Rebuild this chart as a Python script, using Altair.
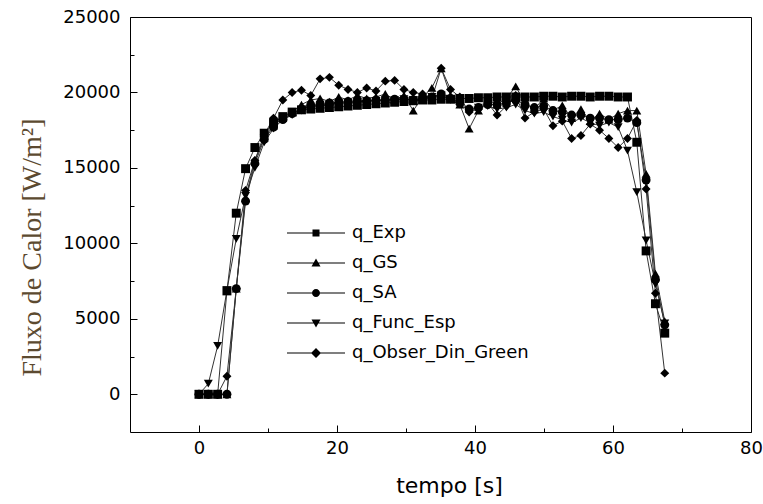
import altair as alt
import pandas as pd

# ---- data ----
tempo = [0, 1.35, 2.7, 4.05, 5.4, 6.75, 8.1, 9.45, 10.8, 12.15, 13.5, 14.85, 16.2, 17.55,
         18.9, 20.25, 21.6, 22.95, 24.3, 25.65, 27.0, 28.35, 29.7, 31.05, 32.4, 33.75, 35.1,
         36.45, 37.8, 39.15, 40.5, 41.85, 43.2, 44.55, 45.9, 47.25, 48.6, 49.95, 51.3, 52.65,
         54.0, 55.35, 56.7, 58.05, 59.4, 60.75, 62.1, 63.45, 64.8, 66.15, 67.5]

q_exp = [0, 0, 0, 6850, 12000, 14950, 16350, 17300, 18000, 18400, 18700,
         18850, 18900, 18950, 19000, 19050, 19100, 19150, 19200, 19250, 19300,
         19350, 19400, 19450, 19500, 19500, 19550, 19550, 19600, 19600, 19650,
         19650, 19700, 19700, 19700, 19700, 19700, 19750, 19750, 19700, 19750,
         19750, 19700, 19750, 19750, 19700, 19700, 16700, 9500, 6000, 4050]

q_gs = [0, 0, 0, 0, 7000, 13000, 15500, 17000, 17800, 18300, 18700,
        19200, 19500, 19600, 19400, 19700, 19500, 19800, 19600, 19700, 19900,
        19500, 19800, 18800, 19700, 20300, 21600, 19800, 19200, 17600, 18800,
        19500, 19200, 19600, 20400, 19300, 18900, 19600, 18800, 19150, 18300,
        18900, 18100, 18600, 18200, 18600, 18800, 18800, 14600, 8000, 4850]

q_sa = [0, 0, 0, 0, 7000, 12800, 15300, 16900, 17700, 18200, 18600,
        18900, 19100, 19200, 19300, 19350, 19400, 19450, 19450, 19500, 19500,
        19550, 19550, 19500, 19550, 19700, 19900, 19600, 19300, 18900, 19000,
        19200, 19200, 19300, 19500, 19200, 19000, 19100, 18800, 18700, 18500,
        18500, 18300, 18300, 18200, 18200, 18300, 18000, 14200, 7600, 4600]

q_func = [0, 700, 3200, 6900, 10300, 13150, 15000, 16700, 17600, 18200, 18500,
          18800, 19000, 19100, 19200, 19300, 19300, 19400, 19400, 19450, 19500,
          19500, 19550, 19500, 19600, 19700, 19800, 19500, 19200, 18800, 19000,
          19100, 18900, 19000, 19200, 18800, 18600, 18700, 18400, 18200, 18000,
          18300, 18000, 17800, 18000, 17700, 16150, 13400, 10200, 7300, 4700]

q_obs = [0, 0, 0, 1200, 7000, 13500, 15500, 17200, 18300, 19500, 20000,
         20150, 19800, 20900, 21000, 20480, 20200, 20000, 20300, 20100, 20750,
         20800, 20200, 20000, 19900, 19600, 21600, 20200, 19700, 18700, 18900,
         19300, 18500, 19100, 19800, 18300, 18700, 18900, 17800, 18100, 16950,
         17150, 17900, 17500, 16950, 16350, 16950, 18150, 13600, 6700, 1400]

series_names = ["q_Exp", "q_GS", "q_SA", "q_Func_Esp", "q_Obser_Din_Green"]
series_values = [q_exp, q_gs, q_sa, q_func, q_obs]

x_major = [0, 20, 40, 60, 80]
x_minor = [10, 30, 50, 70]
y_major = [0, 5000, 10000, 15000, 20000, 25000]
y_minor = [2500, 7500, 12500, 17500, 22500]

rows = []
for name, vals in zip(series_names, series_values):
    for t, q in zip(tempo, vals):
        rows.append({"t": t, "q": q, "serie": name})
df = pd.DataFrame(rows)

# ---- styling ----
W, H = 621, 415
FONT = "DejaVu Sans"
x_scale = alt.Scale(domain=[-10, 80], nice=False, zero=False)
y_scale = alt.Scale(domain=[-2500, 25000], nice=False, zero=False)

point_shapes = ["square", "triangle-up", "circle", "triangle-down", "diamond"]
point_sizes = [80, 80, 70, 80, 95]

# legend symbols: a thin line (filled strip) with the marker in the middle
LINE = "M-2.9,-0.05H2.9V0.05H-2.9Z"
legend_shapes = [
    LINE + "M-0.35,-0.35H0.35V0.35H-0.35Z",
    LINE + "M0,-0.45L0.45,0.35H-0.45Z",
    LINE + "M0.4,0A0.4,0.4 0 1,1 -0.4,0A0.4,0.4 0 1,1 0.4,0Z",
    LINE + "M0,0.45L-0.45,-0.35H0.45Z",
    LINE + "M0,-0.5L0.5,0L0,0.5L-0.5,0Z",
]
LEG_SIZE = 400

base = alt.Chart(df)

lines = base.mark_line(color="#333333", strokeWidth=1).encode(
    x=alt.X("t:Q", scale=x_scale,
            axis=alt.Axis(values=x_major, title="tempo [s]", ticks=False, tickSize=0,
                          domain=False, labelPadding=7, labelFlush=False, format="d",
                          labelFont=FONT, labelFontSize=18, labelColor="black",
                          titleFont=FONT, titleFontSize=22, titleFontWeight="normal",
                          titleColor="black", titleX=319, titleY=53,
                          titleBaseline="middle", titleAlign="center")),
    y=alt.Y("q:Q", scale=y_scale,
            axis=alt.Axis(values=y_major, title="Fluxo de Calor [W/m²]", ticks=False,
                          tickSize=0, domain=False, labelPadding=10, format="d",
                          labelFont=FONT, labelFontSize=18, labelColor="black",
                          labelFlush=False,
                          titleFont="Liberation Serif", titleFontSize=28,
                          titleFontWeight="normal", titleColor="#5c4a30",
                          titleAngle=270, titleX=-98, titleY=230,
                          titleBaseline="middle", titleAlign="center")),
    detail="serie:N",
    order="t:Q",
)

points = base.mark_point(filled=True, color="black", opacity=1).encode(
    x=alt.X("t:Q", scale=x_scale,
            axis=alt.Axis(orient="top", offset=-H, values=x_major, labels=False,
                          domain=False, tickSize=7, tickColor="black", title="")),
    y=alt.Y("q:Q", scale=y_scale,
            axis=alt.Axis(orient="right", offset=-W, values=y_major, labels=False,
                          domain=False, tickSize=7, tickColor="black", title="")),
    shape=alt.Shape("serie:N", scale=alt.Scale(domain=series_names, range=point_shapes),
                    legend=None),
    size=alt.Size("serie:N", scale=alt.Scale(domain=series_names, range=point_sizes),
                  legend=None),
)

minor = base.mark_point(opacity=0).encode(
    x=alt.X("t:Q", scale=x_scale,
            axis=alt.Axis(orient="top", offset=-H, values=x_minor, labels=False,
                          domain=False, tickSize=4, tickColor="black", title="")),
    y=alt.Y("q:Q", scale=y_scale,
            axis=alt.Axis(orient="right", offset=-W, values=y_minor, labels=False,
                          domain=False, tickSize=4, tickColor="black", title="")),
)

legend_layer = base.mark_point(
    filled=True, opacity=0, size=LEG_SIZE, color="black",
).encode(
    x=alt.X("t:Q", scale=x_scale, axis=None),
    y=alt.Y("q:Q", scale=y_scale, axis=None),
    shape=alt.Shape(
        "serie:N",
        scale=alt.Scale(domain=series_names, range=legend_shapes),
        legend=alt.Legend(
            title=None, orient="none", legendX=176, legendY=206,
            labelFont=FONT, labelFontSize=18, labelColor="black", labelOffset=26,
            symbolSize=LEG_SIZE, symbolFillColor="black",
            symbolStrokeWidth=0, symbolOpacity=1, rowPadding=11, padding=0,
            labelLimit=400,
        ),
    ),
)

chart = (
    alt.layer(lines, points, minor, legend_layer)
    .resolve_axis(x="independent", y="independent")
    .resolve_scale(shape="independent", size="independent")
    .properties(
        width=W, height=H,
        autosize=alt.AutoSizeParams(type="none"),
        padding={"left": 130, "top": 17, "right": 12, "bottom": 72},
        background="white",
    )
    .configure_axis(grid=False)
    .configure_view(stroke="black", strokeWidth=1)
)

chart.save("out.html", embed_options={"renderer": "svg", "actions": False})
